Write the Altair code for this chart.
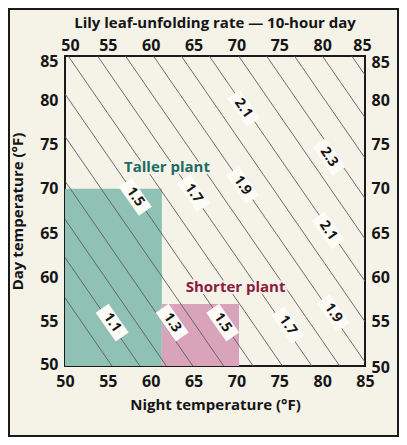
import altair as alt
import pandas as pd

# ---------------- data ----------------
rate_levels = [1.0, 1.1, 1.2, 1.3, 1.4, 1.5, 1.6, 1.7, 1.8, 1.9, 2.0, 2.1, 2.2, 2.3, 2.4, 2.5, 2.6]
# weighted (10 h day / 14 h night) mean temperature of each rate line
mean_temps = [53.2, 55.1, 56.9, 58.7, 60.8, 62.8, 64.8, 66.8, 68.7, 70.6, 72.5, 74.4, 76.4, 78.3, 80.2, 82.1, 84.1]
day_hours = 10
night_hours = 14

label_texts = ["1.1", "1.3", "1.5", "1.5", "1.7", "1.9", "2.1", "2.3", "2.1", "1.9", "1.7"]
label_night = [55.5, 62.5, 68.4, 58.2, 65.0, 70.7, 70.8, 80.8, 80.7, 81.3, 76.0]
label_day = [54.9, 54.9, 54.9, 69.1, 69.5, 70.4, 79.1, 73.6, 65.3, 56.0, 54.6]

region_names = ["Taller plant", "Shorter plant"]
region_night_lo = [50, 61.3]
region_night_hi = [61.3, 70.3]
region_day_lo = [50, 50]
region_day_hi = [70, 57]
region_label_night = [61.9, 69.9]
region_label_day = [72.5, 58.9]

axis_ticks = [50, 55, 60, 65, 70, 75, 80, 85]
chart_title = "Lily leaf-unfolding rate — 10-hour day"

# ---------------- tables ----------------
LO, HI = 50, 85
line_rows = []
for lvl, t in zip(rate_levels, mean_temps):
    total = t * (day_hours + night_hours)
    pts = []
    for n in (LO, HI):
        d = (total - night_hours * n) / day_hours
        if LO <= d <= HI:
            pts.append((n, d))
    for d in (LO, HI):
        n = (total - day_hours * d) / night_hours
        if LO <= n <= HI:
            pts.append((n, d))
    pts = sorted(pts)
    for k, (n, d) in enumerate([pts[0], pts[-1]]):
        line_rows.append({"level": lvl, "order": k, "night": n, "day": d})
lines_df = pd.DataFrame(line_rows)

labels_df = pd.DataFrame({"label": label_texts, "night": label_night, "day": label_day})
regions_df = pd.DataFrame({
    "name": region_names,
    "n_lo": region_night_lo, "n_hi": region_night_hi,
    "d_lo": region_day_lo, "d_hi": region_day_hi,
    "ln": region_label_night, "ld": region_label_day,
})

# ---------------- styling ----------------
BG = "#f5f2e8"
FONT = "Open Sans"
INK = "#151515"
xs = alt.Scale(domain=[LO, HI], nice=False, zero=False)
ys = alt.Scale(domain=[LO, HI], nice=False, zero=False)
ax_common = dict(values=axis_ticks, ticks=False, domain=False, grid=False, labelFlush=False,
                 labelFont=FONT, labelFontWeight="bold", labelFontSize=16, labelColor=INK,
                 titleFont=FONT, titleFontWeight="bold", titleFontSize=15, titleColor=INK)


def offs(v85, v50):
    return {"condition": [{"test": "datum.value === 85", "value": v85},
                          {"test": "datum.value === 50", "value": v50}], "value": 0}


regions = alt.Chart(regions_df).mark_rect().encode(
    x=alt.X("n_lo:Q", scale=xs, axis=alt.Axis(orient="bottom", title="Night temperature (°F)",
                                               labelPadding=7, titleY=38, titleBaseline="middle",
                                               **ax_common)),
    x2="n_hi:Q",
    y=alt.Y("d_lo:Q", scale=ys, axis=alt.Axis(orient="left", title="Day temperature (°F)",
                                               labelPadding=7, titleX=-48, titleBaseline="middle",
                                               labelOffset=offs(5, -2), **ax_common)),
    y2="d_hi:Q",
    color=alt.Color("name:N", scale=alt.Scale(domain=region_names, range=["#8fc1b4", "#d9a4b9"]),
                    legend=None),
)

lines = alt.Chart(lines_df).mark_line(color="#5e5e5e", strokeWidth=0.9, clip=True).encode(
    x=alt.X("night:Q", scale=xs, axis=None),
    y=alt.Y("day:Q", scale=ys, axis=None),
    detail="level:N",
    order="order:Q",
)

boxes = alt.Chart(labels_df).mark_point(
    shape="M-1,-0.45L1,-0.45L1,0.45L-1,0.45Z", filled=True, fill="#fcfbf6", fillOpacity=1,
    strokeWidth=0, size=1225, angle=55,
).encode(
    x=alt.X("night:Q", scale=xs, axis=None),
    y=alt.Y("day:Q", scale=ys, axis=None),
)

texts = alt.Chart(labels_df).mark_text(
    angle=55, font=FONT, fontWeight="bold", fontSize=14, color=INK,
    align="center", baseline="middle",
).encode(
    x=alt.X("night:Q", scale=xs, axis=alt.Axis(orient="top", title=None, labelPadding=3,
                                                labelOffset=offs(-3, 5), **ax_common)),
    y=alt.Y("day:Q", scale=ys, axis=alt.Axis(orient="right", title=None, labelPadding=6,
                                              labelOffset=offs(6, 1.5), **ax_common)),
    text="label:N",
)

region_halo = alt.Chart(regions_df).mark_text(
    font=FONT, fontWeight="bold", fontSize=15, stroke=BG, strokeWidth=4, fill=BG,
).encode(
    x=alt.X("ln:Q", scale=xs, axis=None),
    y=alt.Y("ld:Q", scale=ys, axis=None),
    text="name:N",
)

region_text = alt.Chart(regions_df).mark_text(
    font=FONT, fontWeight="bold", fontSize=15,
).encode(
    x=alt.X("ln:Q", scale=xs, axis=None),
    y=alt.Y("ld:Q", scale=ys, axis=None),
    text="name:N",
    color=alt.Color("name:N", scale=alt.Scale(domain=region_names, range=["#1e6b60", "#8c1a40"]),
                    legend=None),
)

title_mark = alt.Chart(pd.DataFrame({"t": [chart_title]})).mark_text(
    font=FONT, fontWeight="bold", fontSize=15, color=INK, align="center", baseline="middle",
).encode(text="t:N", x=alt.value(150), y=alt.value(-33))

frame = alt.Chart(pd.DataFrame({"a": [0]})).mark_rect(
    fillOpacity=0, stroke="#1a1a1a", strokeWidth=2,
).encode(x=alt.value(-56), x2=alt.value(333), y=alt.value(-47), y2=alt.value(380))

chart = alt.layer(
    regions, lines, boxes, texts, region_halo, region_text, title_mark, frame
).resolve_axis(
    x="independent", y="independent"
).resolve_scale(
    color="independent"
).properties(
    width=300, height=310,
    autosize=alt.AutoSizeParams(type="none"),
    padding={"left": 57, "top": 48, "right": 34, "bottom": 71},
).configure(
    background=BG,
).configure_view(
    stroke="#1a1a1a", strokeWidth=2,
)

chart.save("out.html", embed_options={"renderer": "svg", "actions": False})
